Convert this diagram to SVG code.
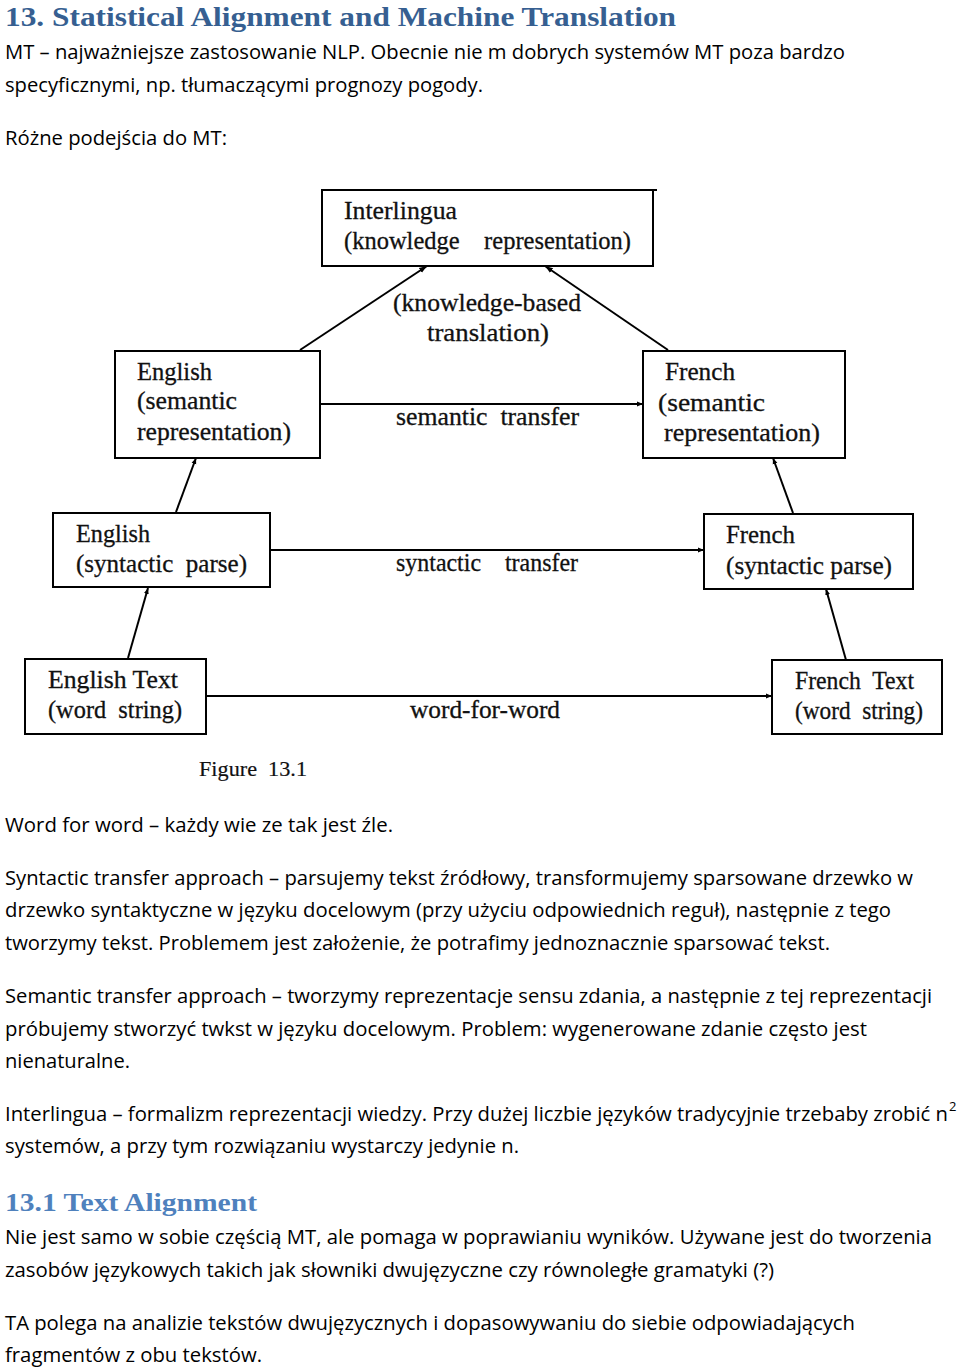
<svg xmlns="http://www.w3.org/2000/svg" width="960" height="1371" viewBox="0 0 960 1371">
<defs>
<style>
.h1{font-family:"Liberation Serif","DejaVu Serif",serif;font-weight:bold;font-size:28px;fill:#365F91}
.h2{font-family:"Liberation Serif","DejaVu Serif",serif;font-weight:bold;font-size:26px;fill:#4F81BD}
.b{font-family:"Open Sans","Liberation Sans",sans-serif;font-size:20px;fill:#000}
.d{font-family:"Liberation Serif","Times New Roman",serif;font-size:25px;fill:#111;stroke:#111;stroke-width:0.3;white-space:pre}
.box{fill:#fff;stroke:#000;stroke-width:2}
.ln{stroke:#000;stroke-width:2;fill:none}
</style>
<marker id="ah" viewBox="0 0 10 10" refX="10" refY="5" markerWidth="6" markerHeight="6" orient="auto" markerUnits="userSpaceOnUse">
<path d="M0,1 L10,5 L0,9 z" fill="#000"/>
</marker>
<marker id="ah2" viewBox="0 0 10 10" refX="10" refY="5" markerWidth="8" markerHeight="8" orient="auto" markerUnits="userSpaceOnUse">
<path d="M0,1.5 L10,5 L0,8.5 z" fill="#000"/>
</marker>
</defs>
<rect width="960" height="1371" fill="#fff"/>

<text class="h1" x="5" y="26" textLength="671" lengthAdjust="spacingAndGlyphs">13. Statistical Alignment and Machine Translation</text>
<text class="b" x="5" y="59" textLength="840" lengthAdjust="spacingAndGlyphs">MT – najważniejsze zastosowanie NLP. Obecnie nie m dobrych systemów MT poza bardzo</text>
<text class="b" x="5" y="92" textLength="478" lengthAdjust="spacingAndGlyphs">specyficznymi, np. tłumaczącymi prognozy pogody.</text>
<text class="b" x="5" y="145" textLength="222" lengthAdjust="spacingAndGlyphs">Różne podejścia do MT:</text>

<g id="connectors">
<line class="ln" x1="300" y1="350" x2="427" y2="266" marker-end="url(#ah2)"/>
<line class="ln" x1="668" y1="350" x2="545" y2="266" marker-end="url(#ah2)"/>
<line class="ln" x1="320" y1="404" x2="643" y2="404" marker-end="url(#ah)"/>
<line class="ln" x1="176" y1="512" x2="196" y2="458" marker-end="url(#ah)"/>
<line class="ln" x1="793" y1="513" x2="773" y2="458" marker-end="url(#ah)"/>
<line class="ln" x1="270" y1="550" x2="704" y2="550" marker-end="url(#ah)"/>
<line class="ln" x1="128" y1="658" x2="148" y2="588" marker-end="url(#ah)"/>
<line class="ln" x1="846" y1="660" x2="826" y2="589" marker-end="url(#ah)"/>
<line class="ln" x1="206" y1="696" x2="772" y2="696" marker-end="url(#ah)"/>
<text class="d" x="393" y="311" textLength="188" lengthAdjust="spacingAndGlyphs">(knowledge-based</text>
<text class="d" x="427" y="341" textLength="122" lengthAdjust="spacingAndGlyphs">translation)</text>
<text class="d" x="396" y="425" textLength="183" lengthAdjust="spacingAndGlyphs" xml:space="preserve">semantic  transfer</text>
<text class="d" x="396" y="571" textLength="182" lengthAdjust="spacingAndGlyphs" xml:space="preserve">syntactic    transfer</text>
<text class="d" x="410" y="718" textLength="150" lengthAdjust="spacingAndGlyphs">word-for-word</text>
</g>

<g id="interlingua">
<rect class="box" x="322" y="190" width="331" height="76"/>
<line class="ln" x1="653" y1="190" x2="657" y2="190"/>
<text class="d" x="344" y="219" textLength="113" lengthAdjust="spacingAndGlyphs">Interlingua</text>
<text class="d" x="344" y="249" textLength="287" lengthAdjust="spacingAndGlyphs" xml:space="preserve">(knowledge    representation)</text>
</g>

<g id="english-sem">
<rect class="box" x="115" y="351" width="205" height="107"/>
<text class="d" x="137" y="380" textLength="75" lengthAdjust="spacingAndGlyphs">English</text>
<text class="d" x="137" y="409" textLength="100" lengthAdjust="spacingAndGlyphs">(semantic</text>
<text class="d" x="137" y="440" textLength="154" lengthAdjust="spacingAndGlyphs">representation)</text>
</g>

<g id="french-sem">
<rect class="box" x="643" y="351" width="202" height="107"/>
<text class="d" x="665" y="380" textLength="70" lengthAdjust="spacingAndGlyphs">French</text>
<text class="d" x="658" y="411" textLength="107" lengthAdjust="spacingAndGlyphs">(semantic</text>
<text class="d" x="664" y="441" textLength="156" lengthAdjust="spacingAndGlyphs">representation)</text>
</g>

<g id="english-syn">
<rect class="box" x="53" y="513" width="217" height="74"/>
<text class="d" x="76" y="542" textLength="74" lengthAdjust="spacingAndGlyphs">English</text>
<text class="d" x="76" y="572" textLength="171" lengthAdjust="spacingAndGlyphs" xml:space="preserve">(syntactic  parse)</text>
</g>

<g id="french-syn">
<rect class="box" x="704" y="514" width="209" height="75"/>
<text class="d" x="726" y="543" textLength="69" lengthAdjust="spacingAndGlyphs">French</text>
<text class="d" x="726" y="574" textLength="166" lengthAdjust="spacingAndGlyphs">(syntactic parse)</text>
</g>

<g id="english-text">
<rect class="box" x="25" y="659" width="181" height="75"/>
<text class="d" x="48" y="688" textLength="130" lengthAdjust="spacingAndGlyphs">English Text</text>
<text class="d" x="48" y="718" textLength="134" lengthAdjust="spacingAndGlyphs" xml:space="preserve">(word  string)</text>
</g>

<g id="french-text">
<rect class="box" x="772" y="660" width="170" height="74"/>
<text class="d" x="795" y="689" textLength="119" lengthAdjust="spacingAndGlyphs" xml:space="preserve">French  Text</text>
<text class="d" x="795" y="719" textLength="128" lengthAdjust="spacingAndGlyphs" xml:space="preserve">(word  string)</text>
</g>

<text class="d" x="199" y="776" textLength="108" lengthAdjust="spacingAndGlyphs" style="font-size:22px;stroke-width:0.2" xml:space="preserve">Figure  13.1</text>

<text class="b" x="5" y="832" textLength="388" lengthAdjust="spacingAndGlyphs">Word for word – każdy wie ze tak jest źle.</text>
<text class="b" x="5" y="885" textLength="908" lengthAdjust="spacingAndGlyphs">Syntactic transfer approach – parsujemy tekst źródłowy, transformujemy sparsowane drzewko w</text>
<text class="b" x="5" y="917" textLength="886" lengthAdjust="spacingAndGlyphs">drzewko syntaktyczne w języku docelowym (przy użyciu odpowiednich reguł), następnie z tego</text>
<text class="b" x="5" y="950" textLength="825" lengthAdjust="spacingAndGlyphs">tworzymy tekst. Problemem jest założenie, że potrafimy jednoznacznie sparsować tekst.</text>
<text class="b" x="5" y="1003" textLength="927" lengthAdjust="spacingAndGlyphs">Semantic transfer approach – tworzymy reprezentacje sensu zdania, a następnie z tej reprezentacji</text>
<text class="b" x="5" y="1036" textLength="862" lengthAdjust="spacingAndGlyphs">próbujemy stworzyć twkst w języku docelowym. Problem: wygenerowane zdanie często jest</text>
<text class="b" x="5" y="1068" textLength="125" lengthAdjust="spacingAndGlyphs">nienaturalne.</text>
<text class="b" x="5" y="1121" textLength="943" lengthAdjust="spacingAndGlyphs">Interlingua – formalizm reprezentacji wiedzy. Przy dużej liczbie języków tradycyjnie trzebaby zrobić n</text>
<text class="b" x="949" y="1111" style="font-size:13px">2</text>
<text class="b" x="5" y="1153" textLength="514" lengthAdjust="spacingAndGlyphs">systemów, a przy tym rozwiązaniu wystarczy jedynie n.</text>
<text class="h2" x="5" y="1211" textLength="252" lengthAdjust="spacingAndGlyphs">13.1 Text Alignment</text>
<text class="b" x="5" y="1244" textLength="927" lengthAdjust="spacingAndGlyphs">Nie jest samo w sobie częścią MT, ale pomaga w poprawianiu wyników. Używane jest do tworzenia</text>
<text class="b" x="5" y="1277" textLength="769" lengthAdjust="spacingAndGlyphs">zasobów językowych takich jak słowniki dwujęzyczne czy równoległe gramatyki (?)</text>
<text class="b" x="5" y="1330" textLength="850" lengthAdjust="spacingAndGlyphs">TA polega na analizie tekstów dwujęzycznych i dopasowywaniu do siebie odpowiadających</text>
<text class="b" x="5" y="1362" textLength="257" lengthAdjust="spacingAndGlyphs">fragmentów z obu tekstów.</text>
</svg>
